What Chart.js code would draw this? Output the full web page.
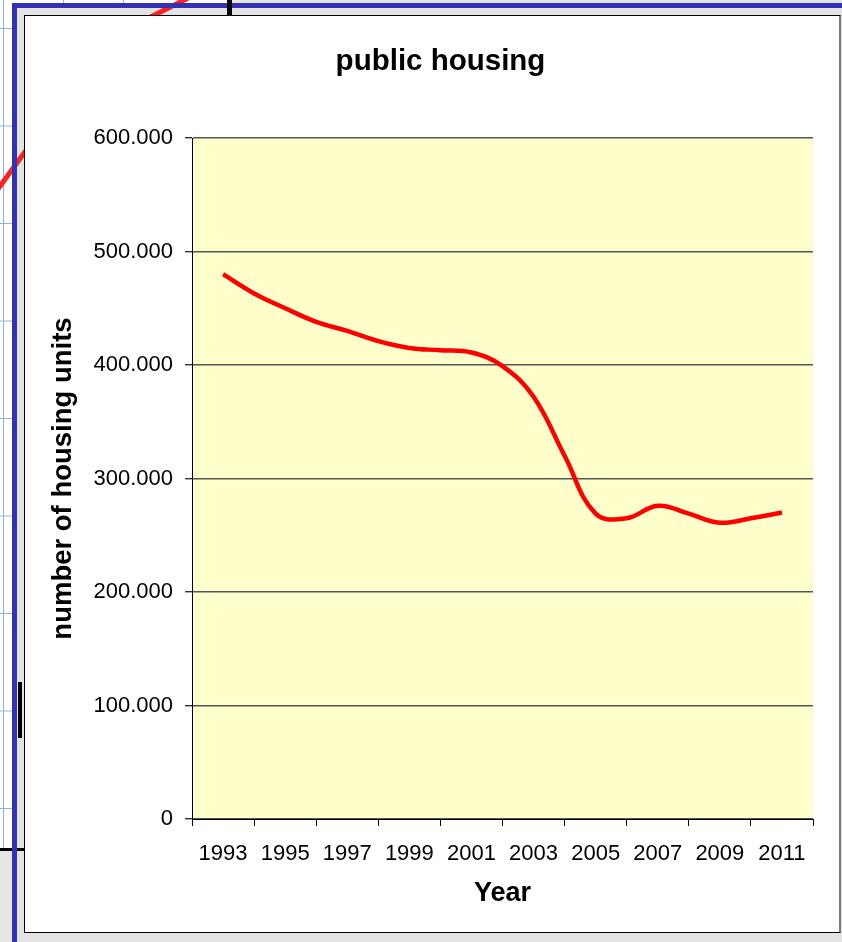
<!DOCTYPE html>
<html>
<head>
<meta charset="utf-8">
<title>public housing</title>
<script src="https://cdn.jsdelivr.net/npm/chart.js@4.4.1/dist/chart.umd.min.js"></script>
<style>
  body { margin: 0; background: #e6e6e6; }
  #stage { position: relative; width: 842px; height: 942px; overflow: hidden; }
  #stage > div, #stage > canvas { position: absolute; box-sizing: border-box; }
  /* the worksheet peeking out behind the window */
  #sheet {
    left: 0; top: 0; width: 229px; height: 849px; background-color: #fff;
    background-image:
      linear-gradient(to bottom, #8db3de 0 1px, transparent 1px),
      linear-gradient(to right, #8db3de 0 1px, transparent 1px);
    background-size: 100% 97.5px, 60px 100%;
    background-position: 0 28px, 3px 0;
  }
  #frameFill { left: 12px; top: 3px; width: 840px; height: 950px; background: #e3e3e3; }
  .red { height: 5px; background: #ff2020; transform-origin: 0 50%; border-radius: 2px; }
  #redTop { left: 140px; top: 20px; width: 60px; transform: rotate(-27deg); }
  #redLeft { left: -6px; top: 192px; width: 60px; transform: rotate(-54deg); }
  #blackBar { left: 18px; top: 682px; width: 4px; height: 56px; background: #000; }
  #blackRule { left: 0; top: 848px; width: 25px; height: 3px; background: #000; }
  #frame { left: 12px; top: 3px; width: 840px; height: 950px; border: 5px solid #3232b4; }
  #topBar { left: 227px; top: 0; width: 5px; height: 16px; background: #000; }
  #panel {
    left: 24px; top: 15px; width: 817px; height: 918px; background: #fff;
    border: 1px solid #000; border-right: 2px solid #777;
  }
  #chart { left: 0; top: 0; }
</style>
</head>
<body>
<div id="stage">
  <div id="sheet"></div>
  <div id="frameFill"></div>
  <div id="redTop" class="red"></div>
  <div id="redLeft" class="red"></div>
  <div id="blackBar"></div>
  <div id="blackRule"></div>
  <div id="frame"></div>
  <div id="topBar"></div>
  <div id="panel"></div>
  <canvas id="chart" width="842" height="942"></canvas>
</div>
<script>
// public housing stock per year
const years = [1993, 1994, 1995, 1996, 1997, 1998, 1999, 2000, 2001, 2002,
               2003, 2004, 2005, 2006, 2007, 2008, 2009, 2010, 2011];
const units = [480000, 463000, 450000, 438000, 430000, 421000, 415000, 413000, 411000, 399000,
               372000, 320000, 269000, 265000, 276000, 269000, 261000, 265000, 270000];

// axis ticks: marks on even years, labels on odd years
const tickMarks = [1992, 1994, 1996, 1998, 2000, 2002, 2004, 2006, 2008, 2010, 2012];
const labelYears = [1993, 1995, 1997, 1999, 2001, 2003, 2005, 2007, 2009, 2011];
const yTicks = [0, 100000, 200000, 300000, 400000, 500000, 600000];

const FONT = "'Liberation Sans', Arial, sans-serif";

// 600000 -> "600.000"
const fmt = v => String(v).replace(/\B(?=(\d{3})+(?!\d))/g, '.');

const plotFill = {
  id: 'plotFill',
  beforeDraw(chart) {
    const {ctx, chartArea: a} = chart;
    ctx.save();
    ctx.fillStyle = '#ffffcc';
    ctx.fillRect(a.left, a.top, a.width, a.height);
    ctx.restore();
  }
};

new Chart(document.getElementById('chart'), {
  type: 'line',
  plugins: [plotFill],
  data: {
    datasets: [{
      label: 'public housing',
      data: years.map((y, i) => ({x: y, y: units[i]})),
      borderColor: '#ff0000',
      borderWidth: 4.5,
      pointRadius: 0,
      tension: 0.4,
      fill: false
    }]
  },
  options: {
    responsive: false,
    animation: false,
    // left/right padding keep the title centred over the whole panel
    layout: {padding: {left: 68, right: 29, top: 44, bottom: 32}},
    plugins: {
      legend: {display: false},
      tooltip: {enabled: false},
      title: {
        display: true,
        text: 'public housing',
        color: '#000',
        font: {family: FONT, size: 29.5, weight: 'bold'},
        padding: {top: 0, bottom: 58.6}
      }
    },
    scales: {
      x: {
        type: 'linear',
        min: 1992,
        max: 2012,
        afterBuildTicks: s => {
          s.ticks = tickMarks.concat(labelYears).sort((a, b) => a - b).map(v => ({value: v}));
        },
        afterFit: s => { s.height = 91; },
        ticks: {
          autoSkip: false,
          maxRotation: 0,
          minRotation: 0,
          padding: 15,
          color: '#000',
          font: {family: FONT, size: 22},
          callback: v => labelYears.includes(v) ? String(v) : ''
        },
        grid: {
          drawOnChartArea: false,
          tickLength: 7,
          tickColor: c => tickMarks.includes(c.tick && c.tick.value) ? '#000' : 'rgba(0,0,0,0)'
        },
        border: {display: true, color: '#000', width: 1},
        title: {
          display: true,
          text: 'Year',
          color: '#000',
          font: {family: FONT, size: 27, weight: 'bold'},
          padding: 0
        }
      },
      y: {
        min: 0,
        max: 600000,
        afterBuildTicks: s => { s.ticks = yTicks.map(v => ({value: v})); },
        afterFit: s => { s.width = 124; },
        ticks: {
          padding: 12,
          color: '#000',
          font: {family: FONT, size: 22},
          callback: v => fmt(v)
        },
        grid: {color: '#555', lineWidth: 1.4, tickLength: 7, tickColor: '#333'},
        border: {display: true, color: '#000', width: 1},
        title: {
          display: true,
          text: 'number of housing units',
          color: '#000',
          font: {family: FONT, size: 27.5, weight: 'bold'},
          // pulled left, out past the layout padding
          padding: {top: -20.7, bottom: 0}
        }
      }
    }
  }
});
</script>
</body>
</html>
